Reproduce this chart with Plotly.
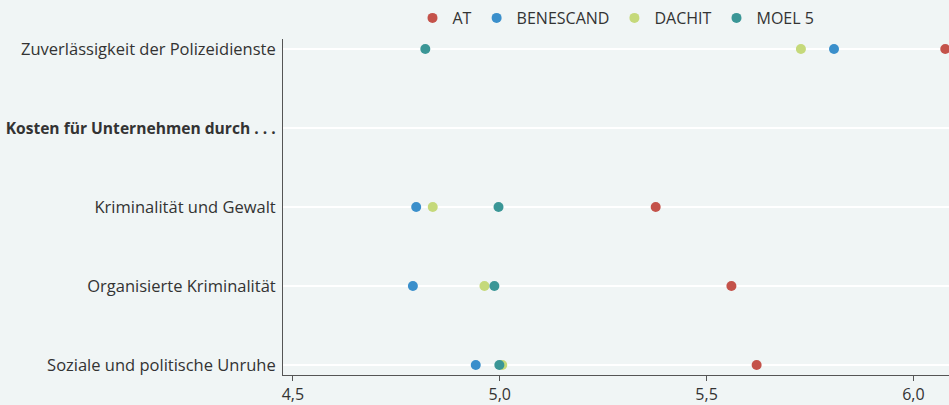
import plotly.graph_objects as go

categories = [
    "Zuverlässigkeit der Polizeidienste",
    "<b><span style='font-size:15.6px'>Kosten für Unternehmen durch . . .</span></b>",
    "Kriminalität und Gewalt",
    "Organisierte Kriminalität",
    "Soziale und politische Unruhe",
]
series_names = ["AT", "BENESCAND", "DACHIT", "MOEL 5"]
# None = no value (header row)
at_values = [6.077, None, 5.377, 5.56, 5.621]
benescand_values = [5.808, None, 4.798, 4.79, 4.942]
dachit_values = [5.728, None, 4.838, 4.963, 5.006]
moel5_values = [4.82, None, 4.997, 4.987, 4.999]
tick_values = [4.5, 5.0, 5.5, 6.0]
tick_labels = ["4,5", "5,0", "5,5", "6,0"]

colors = ["#c4524a", "#3a8fcb", "#c5d97a", "#3a9696"]
all_values = [at_values, benescand_values, dachit_values, moel5_values]

fig = go.Figure()
for name, vals, col in zip(series_names, all_values, colors):
    xs = [v for v in vals if v is not None]
    ys = [c for c, v in zip(categories, vals) if v is not None]
    fig.add_trace(go.Scatter(
        x=xs, y=ys, mode="markers", name=name,
        marker=dict(color=col, size=10, line=dict(width=0)),
        cliponaxis=False,
    ))

bg = "#f0f5f5"
fig.update_layout(
    width=949, height=405,
    paper_bgcolor=bg, plot_bgcolor=bg,
    margin=dict(l=283, r=0, t=39, b=30),
    font=dict(family="Open Sans", size=16.5, color="#333333"),
    showlegend=True,
    legend=dict(orientation="h", x=0.5, xanchor="center",
                yref="container", y=1 - 18 / 405, yanchor="middle",
                bgcolor="rgba(0,0,0,0)", font=dict(size=16),
                itemwidth=30, tracegroupgap=0),
)
fig.update_xaxes(
    range=[4.476, 6.086], tickvals=tick_values, ticktext=tick_labels,
    showgrid=False, zeroline=False,
    showline=True, linecolor="#555555", linewidth=1,
    ticks="outside", ticklen=5, tickcolor="#555555",
    tickfont=dict(size=16, color="#333333"),
)
fig.update_yaxes(
    type="category", categoryorder="array", categoryarray=categories,
    range=[4.127, -0.127],
    showgrid=True, gridcolor="#ffffff", gridwidth=2,
    showline=True, linecolor="#555555", linewidth=1,
    ticks="", ticklabelstandoff=3,
    tickfont=dict(size=16.5, color="#333333"),
)
fig.write_html("out.html", config={"displayModeBar": False},
               post_script="document.body.style.margin='0';")
